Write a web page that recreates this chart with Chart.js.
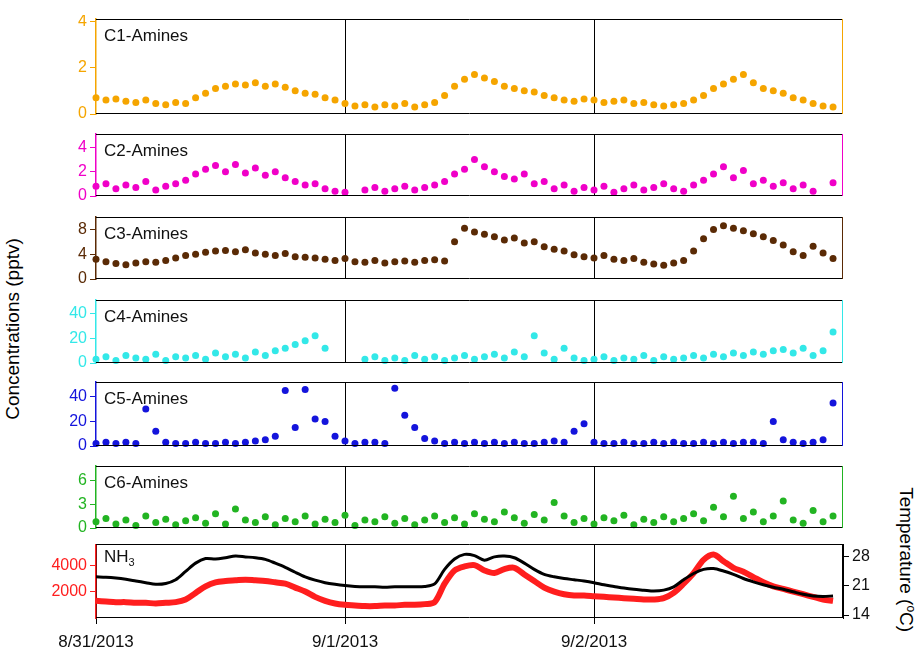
<!DOCTYPE html>
<html>
<head>
<meta charset="utf-8">
<script src="https://cdn.jsdelivr.net/npm/chart.js@4/dist/chart.umd.min.js"></script>
<style>
  body { margin: 0; background: #fff; width: 917px; height: 665px; overflow: hidden; position: relative; font-family: "Liberation Sans", Arial, sans-serif; }
  canvas { position: absolute; left: 0; }
  .ttl { position: absolute; font-size: 19px; white-space: nowrap; }
</style>
</head>
<body>
<div class="ttl" id="ylab" style="left:-78px;top:318px;transform:rotate(-90deg);">Concentrations (pptv)</div>
<div class="ttl" id="tlab" style="left:834px;top:548px;transform:rotate(90deg);">Temperature (<sup style="font-size:12px">o</sup>C)</div>
<script>
// sample times, days since 8/31/2013 00:00 (every ~1 h)
const times = [];
for (let i = 0; i < 75; i++) times.push(i * 0.04);

const xTicks = [0, 1, 2];
const xLabels = ['8/31/2013', '9/1/2013', '9/2/2013'];

const c1 = [0.7,0.6,0.65,0.55,0.5,0.6,0.45,0.4,0.5,0.45,
  0.7,0.9,1.1,1.2,1.3,1.25,1.35,1.2,1.3,1.15,
  1.0,0.9,0.85,0.7,0.6,0.45,0.35,0.4,0.3,0.4,
  0.35,0.45,0.3,0.4,0.5,0.8,1.2,1.5,1.7,1.55,
  1.4,1.2,1.1,1.0,0.95,0.8,0.7,0.6,0.55,0.65,
  0.6,0.5,0.55,0.6,0.45,0.5,0.4,0.35,0.4,0.45,
  0.6,0.8,1.1,1.3,1.5,1.7,1.35,1.1,1.0,0.9,
  0.7,0.6,0.45,0.35,0.3];
const c2 = [0.8,1.0,0.6,0.9,0.7,1.2,0.5,0.8,1.0,1.3,
  1.8,2.2,2.5,2.0,2.6,1.9,2.3,1.7,2.0,1.5,
  1.2,0.9,1.0,0.6,0.4,0.3,null,0.5,0.7,0.4,
  0.6,0.8,0.5,0.7,0.9,1.2,1.8,2.2,3.0,2.4,
  2.0,1.6,1.4,1.8,1.0,1.2,0.6,0.9,0.4,0.7,
  0.5,0.8,0.3,0.6,0.9,0.5,0.7,1.0,0.6,0.4,
  0.9,1.3,1.8,2.4,1.5,2.1,1.0,1.3,0.8,1.1,
  0.6,0.9,0.4,null,1.1];
const c3 = [3.2,2.8,2.5,2.3,2.6,2.8,2.7,3.0,3.4,3.8,
  4.0,4.3,4.5,4.6,4.4,4.7,4.2,4.0,3.8,4.1,
  3.6,3.5,3.4,3.2,3.0,3.3,2.8,2.7,3.0,2.6,
  2.8,2.9,2.7,3.0,3.1,2.9,6.0,8.2,7.6,7.2,
  6.8,6.3,6.6,5.8,6.0,5.2,4.8,4.5,3.9,3.6,
  3.4,3.8,3.2,3.0,3.3,2.7,2.4,2.2,2.6,3.0,
  4.5,6.5,8.0,8.6,8.2,7.8,7.3,6.8,6.2,5.5,
  4.4,3.8,5.3,4.2,3.3];
const c4 = [3,5,2,6,4,3,7,2,5,4,
  6,3,8,5,7,4,9,6,10,12,
  15,18,22,12,null,null,null,3,5,2,
  4,2,6,3,5,2,4,6,3,5,
  7,4,9,5,22,8,3,12,4,2,
  3,5,2,4,3,6,2,5,3,4,
  6,4,7,5,8,6,9,7,10,11,
  8,12,6,10,25];
const c5 = [2,3,2,3,2,30,12,3,2,2,
  3,2,2,3,2,3,4,5,8,45,
  15,46,22,20,8,4,2,3,3,2,
  47,25,15,6,4,2,3,2,3,2,
  3,2,3,2,2,3,4,3,12,18,
  3,2,2,3,2,2,3,2,3,2,
  2,3,2,3,2,3,3,2,20,5,
  3,2,3,5,35];
const c6 = [0.8,1.2,0.5,1.0,0.3,1.5,0.7,1.1,0.4,0.9,
  1.3,0.6,1.8,0.5,2.4,1.0,0.7,1.4,0.4,1.2,
  0.8,1.5,0.5,1.1,0.7,1.6,0.3,1.0,0.8,1.4,
  0.6,1.2,0.4,1.0,1.5,0.7,1.3,0.5,1.8,1.1,
  0.8,2.0,1.3,0.6,1.7,1.0,3.2,1.5,0.7,1.2,
  0.5,1.3,0.9,1.6,0.4,1.1,0.7,1.4,0.8,1.2,
  1.8,0.9,2.6,1.4,4.0,1.2,2.0,0.8,1.5,3.4,
  1.0,0.6,2.2,0.8,1.5];
const nh3 = [1300,1250,1200,1200,1150,1150,1100,1150,1200,1400,
  1900,2400,2700,2800,2850,2900,2850,2800,2700,2600,
  2300,2000,1600,1300,1100,1000,950,900,900,950,
  950,1000,1000,1050,1200,2600,3600,3900,4000,3600,
  3400,3700,3800,3300,2800,2300,2000,1800,1700,1700,
  1650,1600,1550,1500,1450,1400,1400,1500,1900,2600,
  3400,4400,4800,4300,3800,3500,3100,2700,2400,2200,
  2000,1800,1600,1400,1300];
const temp = [23.2,23.1,22.9,22.6,22.2,21.8,21.4,21.6,22.5,24.5,
  26.5,27.6,27.5,27.8,28.2,28.0,27.8,27.4,26.5,25.5,
  24.3,23.2,22.4,21.8,21.4,21.1,20.9,20.8,20.8,20.7,
  20.8,20.8,20.8,20.9,21.5,25.0,27.5,28.6,28.3,27.2,
  28.0,28.2,27.8,26.5,25.0,23.8,23.2,22.8,22.5,22.2,
  21.8,21.3,20.9,20.5,20.2,20.0,19.8,20.0,20.8,22.5,
  24.0,25.0,25.2,24.6,23.8,22.8,22.0,21.3,20.7,20.2,
  19.6,19.0,18.6,18.5,18.6];
const tempTicks = [14, 21, 28];

const panels = [
  { name: 'C1-Amines', data: c1, color: '#f5a500', top: 15, h: 103, max: 4.1, ticks: [0, 2, 4] },
  { name: 'C2-Amines', data: c2, color: '#f000c8', top: 130, h: 70, max: 5.1, ticks: [0, 2, 4] },
  { name: 'C3-Amines', data: c3, color: '#5a2a05', top: 213, h: 70, max: 10, ticks: [0, 4, 8] },
  { name: 'C4-Amines', data: c4, color: '#33e8e8', top: 296, h: 71, max: 51, ticks: [0, 20, 40] },
  { name: 'C5-Amines', data: c5, color: '#1414dc', top: 378, h: 72, max: 52, ticks: [0, 20, 40] },
  { name: 'C6-Amines', data: c6, color: '#22b422', top: 462, h: 70, max: 7.8, ticks: [0, 3, 6] },
  { name: 'NH3', data: nh3, color: '#ff1e1e', top: 544, h: 74, max: 5600, ticks: [2000, 4000], last: true }
];

const FONT = { family: '"Liberation Sans", Arial, sans-serif', size: 16 };

const framePlugin = {
  id: 'frame',
  afterDraw(chart, args, o) {
    const a = chart.chartArea, ctx = chart.ctx;
    ctx.save();
    ctx.lineWidth = 1;
    ctx.strokeStyle = '#000';
    ctx.beginPath();
    ctx.moveTo(a.left, a.top + 0.5); ctx.lineTo(a.right, a.top + 0.5);
    ctx.moveTo(a.left, a.bottom - 0.5); ctx.lineTo(a.right, a.bottom - 0.5);
    ctx.stroke();
    ctx.strokeStyle = o.right;
    ctx.beginPath();
    ctx.moveTo(a.right - 0.5, a.top); ctx.lineTo(a.right - 0.5, a.bottom);
    ctx.stroke();
    ctx.fillStyle = '#111';
    ctx.font = '17px "Liberation Sans", Arial, sans-serif';
    if (o.name === 'NH3') {
      ctx.fillText('NH', a.left + 8, a.top + 18);
      const w = ctx.measureText('NH').width;
      ctx.font = '11px "Liberation Sans", Arial, sans-serif';
      ctx.fillText('3', a.left + 8 + w, a.top + 22);
    } else {
      ctx.fillText(o.name, a.left + 8, a.top + 22);
    }
    ctx.restore();
  }
};

panels.forEach(p => {
  const cv = document.createElement('canvas');
  const h = p.last ? p.h + 47 : p.h;
  cv.width = 917; cv.height = h;
  cv.style.top = p.top + 'px';
  cv.style.width = '917px'; cv.style.height = h + 'px';
  document.body.appendChild(cv);

  const pts = times.map((t, i) => ({ x: t, y: p.data[i] }));
  const datasets = [];
  const noPad = s => { s.paddingTop = 0; s.paddingBottom = 0; };
  const scales = {
    x: {
      type: 'linear', min: 0, max: 3,
      afterBuildTicks: s => { s.ticks = (p.last ? xTicks : [1, 2]).map(v => ({ value: v })); },
      ticks: {
        display: !!p.last, color: '#111', maxRotation: 0,
        font: { family: FONT.family, size: 17 }, padding: 8,
        callback: v => xLabels[xTicks.indexOf(v)]
      },
      grid: { color: '#000', lineWidth: 1, drawTicks: !!p.last, tickLength: 6 },
      border: { display: false },
      afterFit: s => { s.height = p.last ? 47 : 0; s.paddingLeft = 0; s.paddingRight = 0; }
    },
    y: {
      position: 'left', min: 0, max: p.max,
      afterBuildTicks: s => { s.ticks = p.ticks.map(v => ({ value: v })); },
      afterFit: s => { s.width = 96; noPad(s); },
      ticks: { color: p.color, font: FONT, padding: 3, callback: v => String(v) },
      grid: { drawOnChartArea: false, color: p.color, tickLength: 6 },
      border: { color: p.color, width: 1.5 }
    }
  };
  if (p.last) {
    datasets.push({
      type: 'line', data: times.map((t, i) => ({ x: t, y: temp[i] })), yAxisID: 'y2',
      borderColor: '#000', borderWidth: 3, pointRadius: 0, tension: 0.3
    });
    datasets.push({
      type: 'line', data: pts, yAxisID: 'y',
      borderColor: p.color, borderWidth: 6, pointRadius: 0, tension: 0.3
    });
    scales.y2 = {
      position: 'right', min: 13.3, max: 31.1,
      afterBuildTicks: s => { s.ticks = tempTicks.map(v => ({ value: v })); },
      afterFit: s => { s.width = 74; noPad(s); },
      ticks: { color: '#111', font: FONT, padding: 3 },
      grid: { drawOnChartArea: false, color: '#000', tickLength: 6 },
      border: { color: '#000' }
    };
  } else {
    datasets.push({
      type: 'scatter', data: pts, backgroundColor: p.color, borderColor: p.color,
      pointRadius: 3.5, borderWidth: 0, clip: false
    });
  }

  new Chart(cv, {
    type: 'scatter',
    data: { datasets },
    options: {
      responsive: false, animation: false,
      layout: { padding: { left: 0, right: p.last ? 0 : 74, top: 0, bottom: 0 } },
      plugins: {
        legend: { display: false }, tooltip: { enabled: false },
        frame: { name: p.name, right: p.last ? '#000' : p.color }
      },
      scales
    },
    plugins: [framePlugin]
  });
});
</script>
</body>
</html>
